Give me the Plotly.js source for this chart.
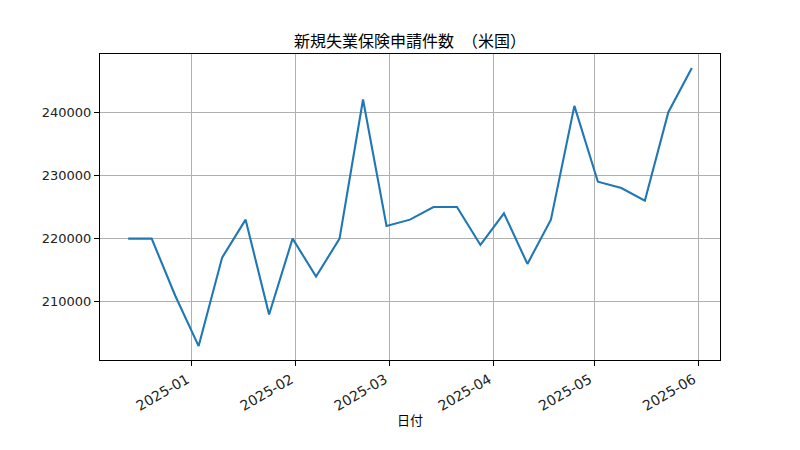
<!DOCTYPE html>
<html>
<head>
<meta charset="utf-8">
<script src="https://cdn.plot.ly/plotly-3.0.1.min.js"></script>
<style>html,body{margin:0;padding:0;background:#fff;}#chart{width:800px;height:450px;}</style>
</head>
<body>
<div id="chart"></div>
<script>
const dates = ["2024-12-13","2024-12-20","2024-12-27","2025-01-03","2025-01-10","2025-01-17","2025-01-24","2025-01-31","2025-02-07","2025-02-14","2025-02-21","2025-02-28","2025-03-07","2025-03-14","2025-03-21","2025-03-28","2025-04-04","2025-04-11","2025-04-18","2025-04-25","2025-05-02","2025-05-09","2025-05-16","2025-05-23","2025-05-30"];
const claims = [220000,220000,211000,203000,217000,223000,208000,220000,214000,220000,242000,222000,223000,225000,225000,219000,224000,216000,223000,241000,229000,228000,226000,240000,247000];
const xTicks = ["2025-01-01","2025-02-01","2025-03-01","2025-04-01","2025-05-01","2025-06-01"];
const xTickText = ["2025-01","2025-02","2025-03","2025-04","2025-05","2025-06"];
const yTicks = [210000,220000,230000,240000];
const titleText = "新規失業保険申請件数　（米国）";
const xTitle = "日付";

const tickFont = {family: "DejaVu Sans, sans-serif", size: 13, color: "#222"};
const xTickFont = {family: "DejaVu Sans, sans-serif", size: 14, color: "#222"};
const jpFont = "Noto Sans CJK JP, sans-serif";

// 5% padding like matplotlib
function pad(a, b){ const d=(b-a)*0.05; return [a-d, b+d]; }
const t0 = new Date(dates[0]+"T00:00:00Z").getTime();
const t1 = new Date(dates[dates.length-1]+"T00:00:00Z").getTime();
const xr = pad(t0, t1).map(v => new Date(v).toISOString().slice(0,19).replace("T"," "));
const yr = pad(Math.min(...claims), Math.max(...claims));

Plotly.newPlot("chart", [{
  x: dates, y: claims, type: "scatter", mode: "lines",
  line: {color: "#1f77b4", width: 2.1}, hoverinfo: "skip"
}], {
  width: 800, height: 450,
  margin: {l: 100, r: 80, t: 54, b: 90},
  paper_bgcolor: "#fff", plot_bgcolor: "#fff",
  showlegend: false,
  title: {text: titleText, font: {family: jpFont, size: 16, color: "#000"}, x: 0.5, xref: "paper", y: 1 - 41/450, yref: "container", yanchor: "middle"},
  xaxis: {
    type: "date", range: xr, tickvals: xTicks, ticktext: xTickText, tickangle: -30,
    ticklabelshift: -5,
    showgrid: true, gridcolor: "#b0b0b0", gridwidth: 1.1,
    showline: true, linecolor: "#000", linewidth: 1.1, mirror: true,
    ticks: "outside", ticklen: 5, tickcolor: "#000", tickwidth: 1.1,
    tickfont: xTickFont, zeroline: false,
    title: {text: xTitle, font: {family: jpFont, size: 13, color: "#000"}, standoff: 3}
  },
  yaxis: {
    range: yr, tickvals: yTicks, ticktext: yTicks.map(String),
    showgrid: true, gridcolor: "#b0b0b0", gridwidth: 1.1,
    showline: true, linecolor: "#000", linewidth: 1.1, mirror: true,
    ticks: "outside", ticklen: 5, tickcolor: "#000", tickwidth: 1.1,
    tickfont: tickFont, zeroline: false
  }
}, {staticPlot: true});
</script>
</body>
</html>
